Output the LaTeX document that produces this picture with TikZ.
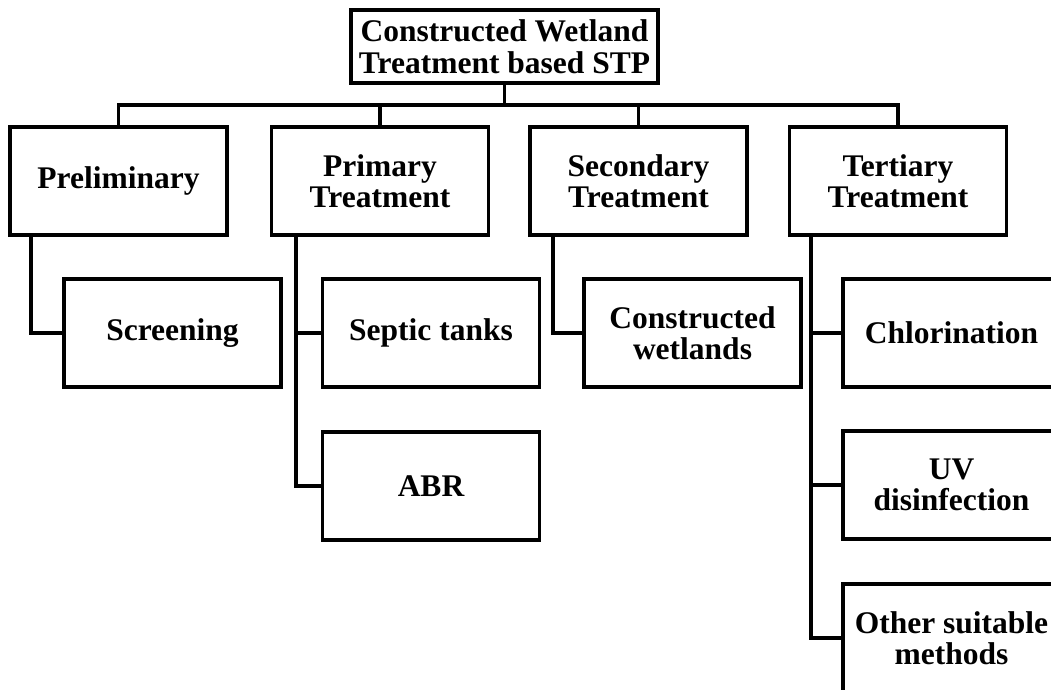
\documentclass[tikz,border=0pt]{standalone}
\usepackage{fontspec}
\setmainfont{Liberation Serif}

\begin{document}
\begin{tikzpicture}[x=1pt, y=-1pt, line width=3.8pt,
    every node/.style={font=\fontsize{31.5}{31.5}\selectfont\bfseries, align=center},
    stagebox/.style={draw, minimum width=217pt, minimum height=108pt, inner sep=0pt},
    topbox/.style={draw, minimum width=307pt, minimum height=73pt, inner sep=0pt}]
        % Frame
        \clip (0,0) rectangle (1051,689);

        % Top
        \node[topbox] (cwt) at (504.5,46.5) {Constructed Wetland\\Treatment based STP};
        \coordinate (bar) at (0,105);

        % Stages
        \node[stagebox] (pre) at (118.5,181) {Preliminary};
        \node[stagebox] (pri) at (380,181) {Primary\\Treatment};
        \node[stagebox] (sec) at (638.5,181) {Secondary\\Treatment};
        \node[stagebox] (ter) at (898,181) {Tertiary\\Treatment};

        % Methods
        \node[stagebox] (scr) at (172.5,333) {Screening};
        \node[stagebox] (sep) at (431,333) {Septic tanks};
        \node[stagebox] (abr) at (431,486) {ABR};
        \node[stagebox] (cwl) at (692.5,333) {Constructed\\wetlands};
        \node[stagebox] (chl) at (951.5,333) {Chlorination};
        \node[stagebox] (uvd) at (951.5,485) {UV\\disinfection};
        \node[stagebox] (oth) at (951.5,638) {Other suitable\\methods};

        % Tree lines
        \draw (cwt.south) -- (cwt.south |- bar);
        \draw (pre.north) -- (pre.north |- bar) -| (ter.north);
        \draw (pri.north) -- (pri.north |- bar);
        \draw (sec.north) -- (sec.north |- bar);

        \coordinate (pre-l) at ([xshift=23pt]pre.south west);
        \coordinate (pri-l) at ([xshift=26pt]pri.south west);
        \coordinate (sec-l) at ([xshift=25pt]sec.south west);
        \coordinate (ter-l) at ([xshift=23pt]ter.south west);

        \draw (pre-l) |- (scr.west);
        \draw (pri-l) |- (abr.west);
        \draw (sep.west) -- (sep.west -| pri-l);
        \draw (sec-l) |- (cwl.west);
        \draw (ter-l) |- (oth.west);
        \draw (chl.west) -- (chl.west -| ter-l);
        \draw (uvd.west) -- (uvd.west -| ter-l);
\end{tikzpicture}
\end{document}
